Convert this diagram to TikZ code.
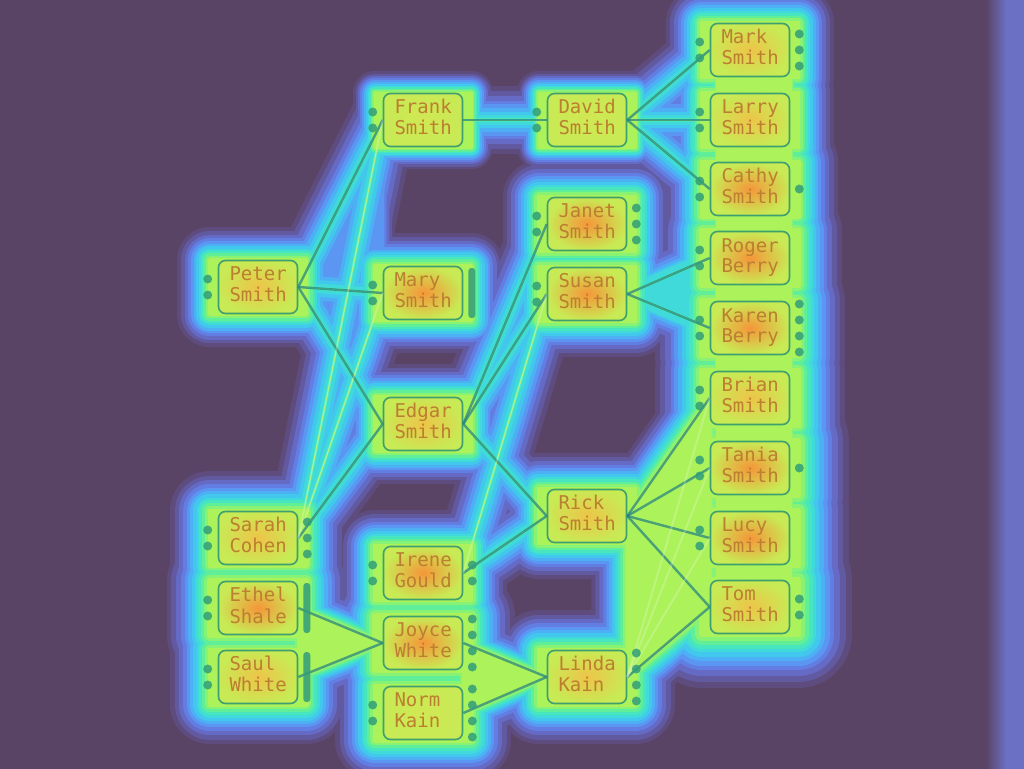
\documentclass[tikz,border=0pt]{standalone}
\usepackage{fontspec}
\setmonofont{DejaVu Sans Mono}
\usepackage{tikz}
\usetikzlibrary{backgrounds}

\definecolor{bgpurple}{RGB}{90,68,102}
\definecolor{rimblue}{RGB}{107,112,196}
\definecolor{heatA}{RGB}{94,76,126}
\definecolor{heatB}{RGB}{98,90,160}
\definecolor{heatC}{RGB}{101,106,196}
\definecolor{heatD}{RGB}{98,126,226}
\definecolor{heatE}{RGB}{90,150,242}
\definecolor{heatF}{RGB}{78,176,244}
\definecolor{heatG}{RGB}{66,200,236}
\definecolor{heatH}{RGB}{64,218,218}
\definecolor{heatI}{RGB}{72,230,190}
\definecolor{heatJ}{RGB}{96,238,152}
\definecolor{heatK}{RGB}{135,242,115}
\definecolor{heatL}{RGB}{172,242,90}
\definecolor{boxrim}{RGB}{62,160,112}
\definecolor{namecol}{RGB}{188,126,48}
\definecolor{linkcol}{RGB}{35,128,132}
\definecolor{portcol}{RGB}{50,158,122}
\definecolor{hotcore}{RGB}{246,150,58}
\definecolor{warmcore}{RGB}{238,196,72}
\definecolor{coolcore}{RGB}{208,232,84}
\definecolor{boxedge}{RGB}{200,234,84}

\newcommand{\nm}[2]{#1\strut\\#2\strut}

\begin{document}
\begin{tikzpicture}[x=1pt,y=-1pt,
  person/.style={draw=boxrim,line width=1.6pt,rounded corners=7pt,
    minimum width=79pt,minimum height=53pt,inner xsep=0pt,
    text width=57pt,align=left,text=namecol,
    font=\ttfamily\fontsize{19}{20}\selectfont,outer color=boxedge},
  hot/.style={person,inner color=hotcore},
  warm/.style={person,inner color=warmcore},
  cool/.style={person,inner color=coolcore},
  link/.style={linkcol,line width=2.4pt,opacity=.7},
  faint/.style={white,line width=2pt,opacity=.22},
  port/.style={portcol,opacity=.85},
  heat/.style={line width=#1,line join=round,line cap=round}]
\useasboundingbox (0,0) rectangle (1024,768);

% generation 1
\node[warm] (peter) at (258,287) {\nm{Peter}{Smith}};
\node[warm] (sarah) at (258,538) {\nm{Sarah}{Cohen}};
\node[hot]  (ethel) at (258,608) {\nm{Ethel}{Shale}};
\node[warm] (saul)  at (258,677) {\nm{Saul}{White}};
% generation 2
\node[cool] (frank) at (423,120) {\nm{Frank}{Smith}};
\node[hot]  (mary)  at (423,293) {\nm{Mary}{Smith}};
\node[warm] (edgar) at (423,424) {\nm{Edgar}{Smith}};
\node[hot]  (irene) at (423,573) {\nm{Irene}{Gould}};
\node[hot]  (joyce) at (423,643) {\nm{Joyce}{White}};
\node[cool] (norm)  at (423,713) {\nm{Norm}{Kain}};
% generation 3
\node[cool] (david) at (587,120) {\nm{David}{Smith}};
\node[hot]  (janet) at (587,224) {\nm{Janet}{Smith}};
\node[hot]  (susan) at (587,294) {\nm{Susan}{Smith}};
\node[warm] (rick)  at (587,516) {\nm{Rick}{Smith}};
\node[warm] (linda) at (587,677) {\nm{Linda}{Kain}};
% generation 4
\node[warm] (mark)  at (750,50)  {\nm{Mark}{Smith}};
\node[warm] (larry) at (750,120) {\nm{Larry}{Smith}};
\node[hot]  (cathy) at (750,189) {\nm{Cathy}{Smith}};
\node[hot]  (roger) at (750,258) {\nm{Roger}{Berry}};
\node[hot]  (karen) at (750,328) {\nm{Karen}{Berry}};
\node[warm] (brian) at (750,398) {\nm{Brian}{Smith}};
\node[hot]  (tania) at (750,468) {\nm{Tania}{Smith}};
\node[hot]  (lucy)  at (750,538) {\nm{Lucy}{Smith}};
\node[warm] (tom)   at (750,607) {\nm{Tom}{Smith}};

% parent links
\foreach \a/\b in {peter/frank,peter/mary,peter/edgar,sarah/edgar,frank/david,
    david/mark,david/larry,david/cathy,edgar/janet,edgar/susan,edgar/rick,
    irene/rick,susan/roger,susan/karen,ethel/joyce,saul/joyce,joyce/linda,
    norm/linda,rick/brian,rick/tania,rick/lucy,rick/tom,linda/tom}
  \draw[link] (\a.east) -- (\b.west);
\foreach \a/\b in {sarah/frank,sarah/mary,irene/susan,linda/brian,linda/tania,linda/lucy}
  \draw[faint] (\a.east) -- (\b.west);

% ports
\foreach \n in {peter,sarah,ethel,saul,frank,mary,irene,norm,david,janet,susan,
    mark,larry,cathy,roger,karen,brian,tania,lucy}{
  \fill[port] ([xshift=-10pt,yshift=8pt]\n.west) circle (4.5pt);
  \fill[port] ([xshift=-10pt,yshift=-8pt]\n.west) circle (4.5pt);
}
\foreach \n/\k in {mark/3,cathy/1,janet/3,karen/4,tania/1,tom/2,sarah/3,
    irene/2,joyce/4,norm/4,linda/4}
  \foreach \i in {1,...,\k}
    \fill[port] ([xshift=9pt,yshift={(\k+1)*8pt-\i*16pt}]\n.east) circle (4.5pt);
\foreach \n in {mary,ethel,saul}
  \fill[port,rounded corners=3pt] ([xshift=5pt,yshift=-25pt]\n.east) rectangle ([xshift=12pt,yshift=25pt]\n.east);

% heat map under everything
\begin{scope}[on background layer]
\fill[bgpurple] (-20,-20) rectangle (1044,788);
\shade[left color=bgpurple,right color=rimblue] (986,-20) rectangle (1006,788);
\fill[rimblue] (1006,-20) rectangle (1044,788);
\foreach \d/\c in {36/heatA,32/heatB,28/heatC,24/heatD,21/heatE,18/heatF,
    15/heatG,12/heatH,9.5/heatI,7/heatJ,4.5/heatK,2/heatL}{
  \pgfmathsetmacro\ew{max(2.4*(\d-8),0.5)}
  \foreach \n/\s in {peter/0.9,sarah/1.1,ethel/1.2,saul/1.1,frank/0.6,mary/0.9,
      edgar/0.9,irene/1.0,joyce/1.2,norm/1.1,david/0.6,janet/1.0,susan/1.0,
      rick/1.0,linda/1.1,mark/1.0,larry/1.0,cathy/1.1,roger/1.2,karen/1.3,
      brian/1.3,tania/1.4,lucy/1.4,tom/1.5}
    \filldraw[draw=\c,fill=\c,heat=2*\d*\s] ([xshift=-8pt]\n.south west) rectangle ([xshift=8pt]\n.north east);
  \foreach \a/\b in {peter/frank,peter/mary,peter/edgar,sarah/edgar,frank/david,
      david/mark,david/larry,david/cathy,edgar/janet,edgar/susan,edgar/rick,
      irene/rick,susan/roger,susan/karen,ethel/joyce,saul/joyce,joyce/linda,
      norm/linda,rick/brian,rick/tania,rick/lucy,rick/tom,linda/tom,
      sarah/frank,sarah/mary,irene/susan,linda/brian,linda/tania,linda/lucy}
    \draw[draw=\c,heat=\ew] (\a.east) -- (\b.west);
  \filldraw[draw=\c,fill=\c,heat=2*\d] (rick.east) -- (brian.west) -- (tom.west) -- (linda.east) -- cycle;
  \filldraw[draw=\c,fill=\c,heat=1.4*\d] (ethel.east) -- (joyce.west) -- (saul.east) -- cycle;
  \filldraw[draw=\c,fill=\c,heat=1.4*\d] (joyce.east) -- (linda.west) -- (norm.east) -- cycle;
  \ifdim\d pt>10pt
    \filldraw[draw=\c,fill=\c,heat=1.2*\d] (susan.east) -- (roger.west) -- (karen.west) -- cycle;
  \fi
  \ifdim\d pt>20pt
    \filldraw[draw=\c,fill=\c,heat=1.4*\d-26] (peter.east) -- (frank.west) -- (mary.west) -- cycle;
  \fi
  \filldraw[draw=\c,fill=\c,heat=1.3*\d] ([xshift=8pt]mark.north west) rectangle (tom.south east);
}
\end{scope}
\end{tikzpicture}
\end{document}
